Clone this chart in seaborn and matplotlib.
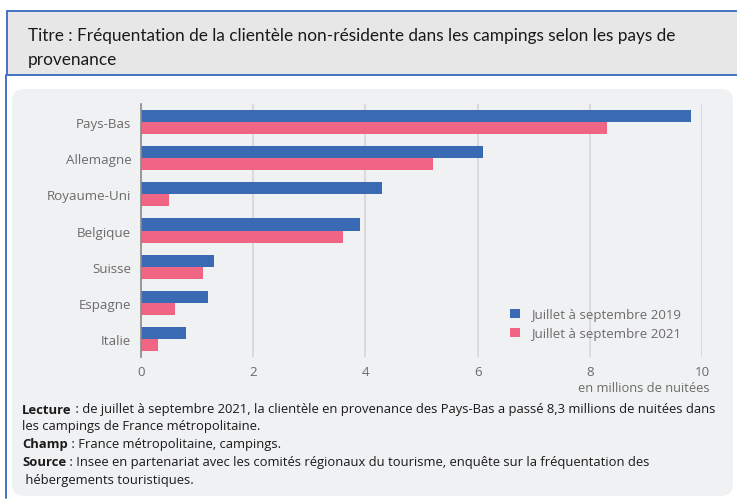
import matplotlib
matplotlib.use("Agg")
import matplotlib.pyplot as plt
import seaborn as sns
import pandas as pd
from matplotlib.patches import Rectangle, FancyBboxPatch, Patch
from matplotlib.lines import Line2D

# ---- data ----
pays = ["Pays-Bas", "Allemagne", "Royaume-Uni", "Belgique", "Suisse", "Espagne", "Italie"]
v2019 = [9.8, 6.1, 4.3, 3.9, 1.3, 1.2, 0.8]
v2021 = [8.3, 5.2, 0.5, 3.6, 1.1, 0.6, 0.3]
series = ["Juillet à septembre 2019", "Juillet à septembre 2021"]
xticks = [0, 2, 4, 6, 8, 10]

title_lines = ["Titre : Fréquentation de la clientèle non-résidente dans les campings selon les pays de",
               "provenance"]
unit_text = "en millions de nuitées"
notes = [
    ("Lecture", " : de juillet à septembre 2021, la clientèle en provenance des Pays-Bas a passé 8,3 millions de nuitées dans"),
    (None, "les campings de France métropolitaine."),
    ("Champ", " : France métropolitaine, campings."),
    ("Source", " : Insee en partenariat avec les comités régionaux du tourisme, enquête sur la fréquentation des"),
    (None, " hébergements touristiques."),
]

df = pd.DataFrame({
    "pays": pays * 2,
    "valeur": v2019 + v2021,
    "periode": [series[0]] * len(pays) + [series[1]] * len(pays),
})

BLUE = "#3a6ab4"
PINK = "#f06583"
PANEL = "#f0f1f3"
TXT = "#6b6b6b"

sns.set_theme(style="white")
plt.rcParams["font.family"] = ["Open Sans", "DejaVu Sans"]

W, H = 737, 502
fig = plt.figure(figsize=(W / 100, H / 100), dpi=100)
fig.patch.set_facecolor("white")

def fx(px):
    return px / W

def fy(py):
    return 1 - py / H

# title box
fig.add_artist(Rectangle((fx(7), fy(76)), fx(740) - fx(7), fy(12) - fy(76),
                         transform=fig.transFigure, facecolor="#e7e7e7",
                         edgecolor="#4472c4", linewidth=1.4, zorder=1))
# left frame line of lower box
fig.add_artist(Line2D([fx(6), fx(6)], [fy(76), fy(499)], transform=fig.transFigure,
                      color="#4472c4", linewidth=1.4, zorder=1))
# rounded light panel (in pixel/display coords)
fig.add_artist(FancyBboxPatch((12, H - 497), 721, 407,
                              boxstyle="round,pad=0,rounding_size=12",
                              transform=None, facecolor=PANEL, edgecolor="none", zorder=0))

for line, py in zip(title_lines, [36, 60]):
    fig.text(fx(28), fy(py), line, family=["Lato", "DejaVu Sans"], fontsize=12.4,
             color="#1a1a1a", va="center", ha="left")

ax = fig.add_axes([fx(141), fy(358), fx(702) - fx(141), fy(105) - fy(358)])
ax.set_facecolor("none")

sns.barplot(data=df, y="pays", x="valeur", hue="periode", order=pays,
            hue_order=series, palette=[BLUE, PINK], orient="h",
            width=0.667, gap=0, linewidth=0, saturation=1, ax=ax, legend=False)

ax.set_xlim(0, 10)
ax.set_ylim(6.5, -0.5)
ax.set_xticks(xticks)
ax.set_xticklabels([str(t) for t in xticks])
ax.set_xlabel("")
ax.set_ylabel("")
for s in ["top", "right", "bottom"]:
    ax.spines[s].set_visible(False)
ax.spines["left"].set_color("#8a8a8a")
ax.spines["left"].set_linewidth(1.2)
ax.spines["left"].set_zorder(5)
ax.xaxis.grid(True, color="#d4d4d4", linewidth=1.1)
ax.yaxis.grid(False)
ax.set_axisbelow(True)
ax.tick_params(axis="both", length=0, colors=TXT, labelsize=9.6)
ax.tick_params(axis="y", pad=7)
ax.tick_params(axis="x", pad=6)

fig.text(fx(709), fy(389), unit_text, ha="right", va="center", fontsize=9.3, color=TXT)

handles = [Patch(facecolor=BLUE, edgecolor="none"), Patch(facecolor=PINK, edgecolor="none")]
fig.legend(handles, series, loc="upper left", bbox_to_anchor=(fx(510), fy(309)),
           frameon=False, fontsize=9.5, labelcolor=TXT, handlelength=0.75, handleheight=0.75,
           handletextpad=0.85, labelspacing=0.45, borderaxespad=0, borderpad=0)

# footnotes with bold labels
fig.canvas.draw()
renderer = fig.canvas.get_renderer()
ys = [410, 427, 445, 463, 481]
for (bold, rest), py in zip(notes, ys):
    x0 = fx(22)
    if bold:
        t = fig.text(x0, fy(py), bold, fontsize=9.4, fontweight="bold", color="#1a1a1a",
                     va="center", ha="left")
        bb = t.get_window_extent(renderer)
        x0 = bb.x1 / W
    fig.text(x0, fy(py), rest, fontsize=9.4, color="#1a1a1a", va="center", ha="left")

fig.savefig("out.png", dpi=100, facecolor="white")
